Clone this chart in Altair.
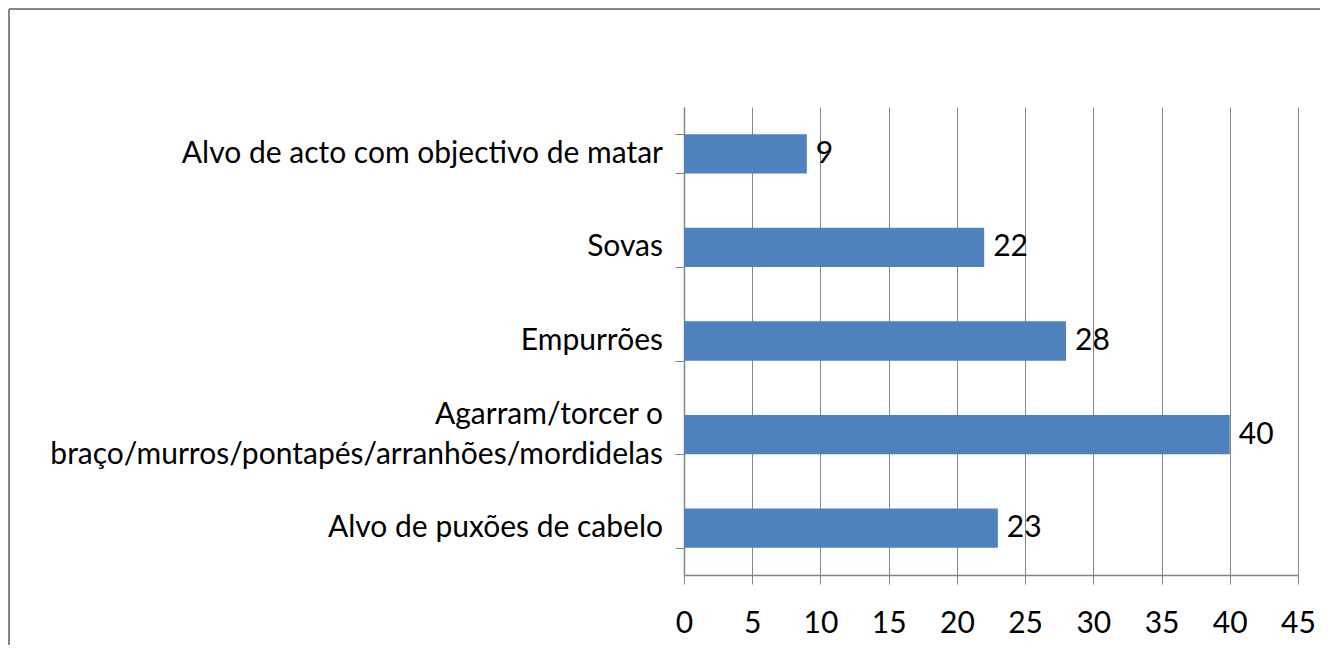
import altair as alt
import pandas as pd

categories = [
    "Alvo de acto com objectivo de matar",
    "Sovas\u00a0",
    "Empurrões\u00a0",
    "Agarram/torcer o|braço/murros/pontapés/arranhões/mordidelas\u00a0",
    "Alvo de puxões de cabelo",
]
values = [9, 22, 28, 40, 23]
x_ticks = [0, 5, 10, 15, 20, 25, 30, 35, 40, 45]

df = pd.DataFrame({"cat": categories, "val": values})
df["multi"] = df["cat"].str.contains("|", regex=False)

FONT = "Lato"
FS = 30
GRAY = "#868686"

W, H = 614, 468
PL, PT, PR, PB = 676, 99, 22, 70

y_scale = alt.Scale(paddingInner=0.58, paddingOuter=0.29)

y_enc = alt.Y(
    "cat:N",
    sort=categories,
    scale=y_scale,
    axis=alt.Axis(
        title=None,
        labels=False,
        tickBand="extent",
        tickSize=9,
        tickColor=GRAY,
        domainColor=GRAY,
        domainWidth=1.5,
        grid=False,
    ),
)

x_enc = alt.X(
    "val:Q",
    scale=alt.Scale(domain=[0, 45], nice=False),
    axis=alt.Axis(
        title=None,
        values=x_ticks,
        labelFont=FONT,
        labelFontSize=FS,
        labelColor="#000000",
        labelPadding=24,
        labelFlush=False,
        tickSize=9,
        tickColor=GRAY,
        domainColor=GRAY,
        domainWidth=1.5,
        grid=True,
        gridColor=GRAY,
        gridWidth=1,
    ),
)

base = alt.Chart(df)

bars = base.mark_bar(color="#4F81BD").encode(x=x_enc, y=y_enc)

values_text = base.mark_text(
    align="left", baseline="middle", dx=9, font=FONT, fontSize=FS, color="#000000"
).encode(x="val:Q", y=alt.Y("cat:N", sort=categories), text="val:Q")

cat_single = base.transform_filter("!datum.multi").mark_text(
    align="right", baseline="middle", font=FONT, fontSize=FS, color="#000000"
).encode(x=alt.value(-21), y=alt.Y("cat:N", sort=categories), text="cat:N")

cat_multi = base.transform_filter("datum.multi").mark_text(
    align="right", baseline="middle", font=FONT, fontSize=FS, color="#000000",
    lineBreak="|", lineHeight=40, dy=-20,
).encode(x=alt.value(-21), y=alt.Y("cat:N", sort=categories), text="cat:N")

frame_left = base.mark_rule(color=GRAY, strokeWidth=2).encode(
    x=alt.value(-675), y=alt.value(-98), y2=alt.value(H + PB)
)
frame_top = base.mark_rule(color=GRAY, strokeWidth=2).encode(
    x=alt.value(-675), x2=alt.value(W + PR), y=alt.value(-98)
)

chart = alt.layer(frame_left, frame_top, bars, values_text, cat_single, cat_multi).properties(
    width=W,
    height=H,
    padding={"left": PL, "top": PT, "right": PR, "bottom": PB},
    autosize=alt.AutoSizeParams(type="none"),
).configure_view(stroke=None)

chart.save("out.html", embed_options={"renderer": "svg", "actions": False})
